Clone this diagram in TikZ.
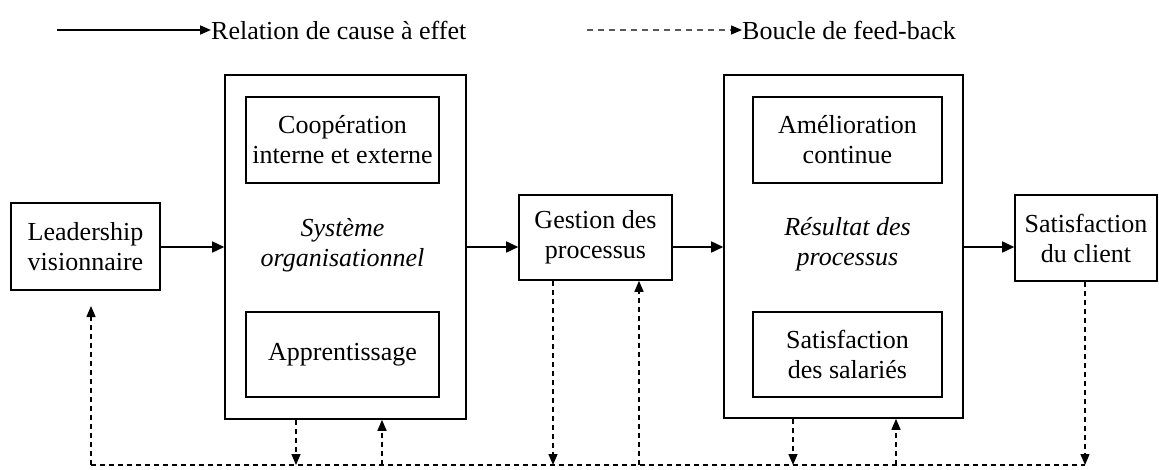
\documentclass[tikz,border=0pt]{standalone}
\usepackage{fontspec}
\setmainfont{Liberation Serif}
\usetikzlibrary{arrows.meta}
\begin{document}
\begin{tikzpicture}[x=1pt,y=-1pt,
  every node/.style={font=\fontsize{26}{30}\selectfont, align=center, inner sep=0pt},
  box/.style={draw, line width=1.6pt, rectangle},
  tip/.style={-{Triangle[length=12pt,width=11pt]}},
  smalltip/.style={-{Triangle[length=11pt,width=9pt]}},
  flow/.style={tip, line width=1.6pt},
  fb/.style={line width=1.4pt, dash pattern=on 5pt off 4pt},
  legdash/.style={line width=1.4pt, dash pattern=on 6pt off 5pt, draw=black!65}]
\useasboundingbox (0,0) rectangle (1159,470);
% legend
\coordinate (leg1a) at (57,30);
\node[anchor=west] (leg1) at (211,30) {Relation de cause à effet};
\draw[line width=1.6pt, smalltip] (leg1a) -- (leg1.west);
\coordinate (leg2a) at (587,30);
\node[anchor=west] (leg2) at (742,30) {Boucle de feed-back};
\draw[legdash, -{Triangle[length=11pt,width=9pt,color=black]}] (leg2a) -- (leg2.west);
% boxes
\node[box, minimum width=149pt, minimum height=87pt] (lead) at (85.5,246.5) {Leadership\\visionnaire};
\node[box, minimum width=241pt, minimum height=344pt] (sys) at (345.5,247) {};
\node[box, minimum width=193pt, minimum height=86pt] (coop) at (342.5,140) {Coopération\\interne et externe};
\node[box, minimum width=193pt, minimum height=85pt] (appr) at (342.5,354.5) {Apprentissage};
\node[font=\fontsize{26}{30}\selectfont\itshape] (systxt) at (342.5,245) {Système\\organisationnel};
\node[box, minimum width=153pt, minimum height=85pt] (gest) at (595.5,237.5) {Gestion des\\processus};
\node[box, minimum width=239pt, minimum height=343pt] (res) at (843.5,246.5) {};
\node[box, minimum width=189pt, minimum height=86pt] (amel) at (847.5,140) {Amélioration\\continue};
\node[box, minimum width=189pt, minimum height=85pt] (satsal) at (847.5,354.5) {Satisfaction\\des salariés};
\node[font=\fontsize{26}{30}\selectfont\itshape] (restxt) at (847.5,244) {Résultat des\\processus};
\node[box, minimum width=142pt, minimum height=86pt] (satcl) at (1086,238) {Satisfaction\\du client};
% cause-effect arrows
\coordinate (ay) at (0,247);
\draw[flow] (lead.east |- ay) -- (sys.west |- ay);
\draw[flow] (sys.east |- ay) -- (gest.west |- ay);
\draw[flow] (gest.east |- ay) -- (res.west |- ay);
\draw[flow] (res.east |- ay) -- (satcl.west |- ay);
% feedback
\coordinate (bL) at (91,465);
\coordinate (b1) at (296,465);
\coordinate (b2) at (382,465);
\coordinate (b3) at (553,465);
\coordinate (b4) at (639,465);
\coordinate (b5) at (793,465);
\coordinate (b6) at (896,465);
\coordinate (bR) at (1085,465);
\coordinate (leadtip) at (91,306);
\draw[fb] (bL) -- (bR);
\draw[fb,smalltip] (bL) -- (leadtip);
\draw[fb,smalltip] (b1 |- sys.south) -- (b1);
\draw[fb,smalltip] (b2) -- (b2 |- sys.south);
\draw[fb,smalltip] (b3 |- gest.south) -- (b3);
\draw[fb,smalltip] (b4) -- (b4 |- gest.south);
\draw[fb,smalltip] (b5 |- res.south) -- (b5);
\draw[fb,smalltip] (b6) -- (b6 |- res.south);
\draw[fb,smalltip] (bR |- satcl.south) -- (bR);
\end{tikzpicture}
\end{document}
